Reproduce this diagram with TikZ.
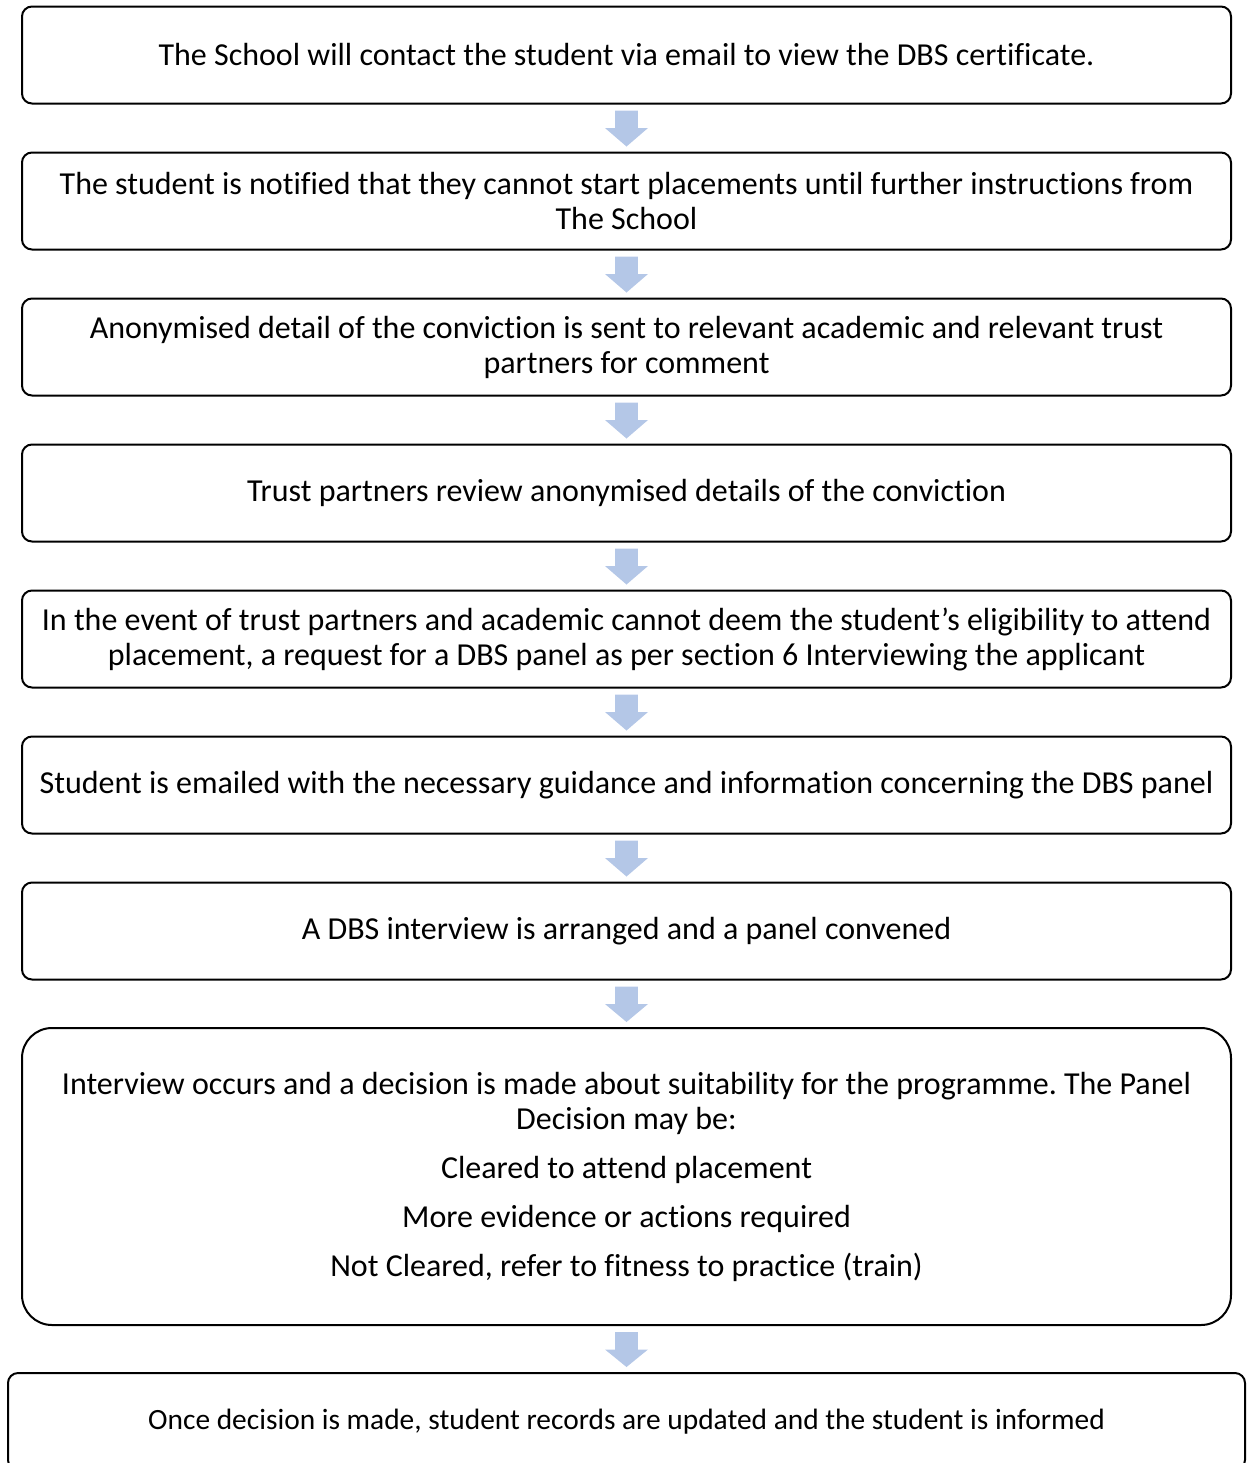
\documentclass[tikz,border=0pt]{standalone}
\usepackage{fontspec}
\setmainfont{Carlito}[Ligatures=NoCommon]
\usetikzlibrary{calc}
\definecolor{arrowblue}{RGB}{180,199,231}
\frenchspacing

\begin{document}
\begin{tikzpicture}[x=0.5pt,y=-0.5pt,
  stage/.style={draw,line width=1pt,rounded corners=5pt,align=center,
    minimum width=604.5pt,minimum height=48.5pt,inner sep=0pt,
    font=\fontsize{16}{17.5}\selectfont}]
  \def\flowarrow#1#2{%
    \fill[arrowblue] ($(#1.south)+(-11.3,6)$) -- ($(#1.south)+(11.3,6)$)
      -- ($(#1.south)+(11.3,23.5)$) -- ($(#1.south)+(21.5,23.5)$)
      -- ($(#2.north)+(0,-5)$)
      -- ($(#1.south)+(-21.5,23.5)$) -- ($(#1.south)+(-11.3,23.5)$) -- cycle;}
  \useasboundingbox (0,0) rectangle (1247,1463);
  % steps
  \node[stage] (contact) at (626.5,55) {The School will contact the student via email to view the DBS certificate.};
  \node[stage] (notify) at (626.5,201) {The student is notified that they cannot start placements until further instructions from\\The School};
  \node[stage] (anon) at (626.5,347) {Anonymised detail of the conviction is sent to relevant academic and relevant trust\\partners for comment};
  \node[stage] (review) at (626.5,493) {Trust partners review anonymised details of the conviction};
  \node[stage] (request) at (626.5,639) {In the event of trust partners and academic cannot deem the student’s eligibility to attend\\placement, a request for a DBS panel as per section 6 Interviewing the applicant};
  \node[stage] (guide) at (626.5,785) {Student is emailed with the necessary guidance and information concerning the DBS panel};
  \node[stage] (arrange) at (626.5,931) {A DBS interview is arranged and a panel convened};
  % decision box
  \node[stage,minimum height=148.5pt,rounded corners=15pt] (decide) at (626.5,1176.5)
    {Interview occurs and a decision is made about suitability for the programme. The Panel\\Decision may be:\\[7pt]
     Cleared to attend placement\\[7pt]
     More evidence or actions required\\[7pt]
     Not Cleared, refer to fitness to practice (train)};
  \node[stage,minimum width=618.5pt,font=\fontsize{14.7}{17.5}\selectfont] (inform) at (626.5,1421.5) {Once decision is made, student records are updated and the student is informed};
  % arrows
  \flowarrow{contact}{notify}
  \flowarrow{notify}{anon}
  \flowarrow{anon}{review}
  \flowarrow{review}{request}
  \flowarrow{request}{guide}
  \flowarrow{guide}{arrange}
  \flowarrow{arrange}{decide}
  \flowarrow{decide}{inform}
\end{tikzpicture}
\end{document}
